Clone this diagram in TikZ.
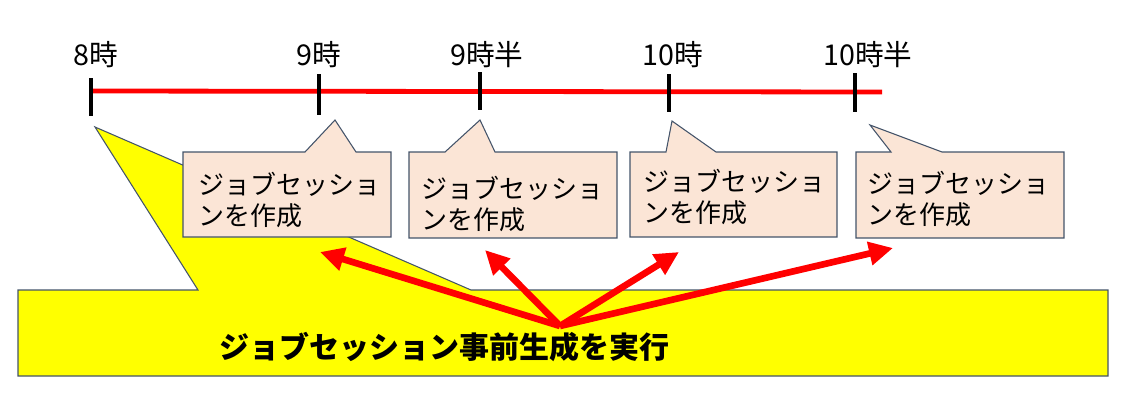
\documentclass[tikz,border=0pt]{standalone}
\usepackage{fontspec}
\newfontfamily\jp{Noto Sans CJK JP}
\usetikzlibrary{arrows.meta}
\definecolor{cpink}{RGB}{251,229,214}
\definecolor{cedge}{RGB}{68,84,106}
\definecolor{cyel}{RGB}{255,255,0}
\begin{document}
\begin{tikzpicture}[x=0.75pt,y=-0.75pt,
  callout/.style={fill=cpink,draw=cedge,line width=0.8pt},
  bigcallout/.style={fill=cyel,draw=cedge,line width=0.8pt},
  timeline/.style={red,line width=3.6pt},
  tick/.style={black,line width=3pt},
  timelabel/.style={inner sep=0pt,font=\jp\fontsize{21.5pt}{25pt}\selectfont},
  callouttext/.style={inner sep=0pt,anchor=north west,align=left,font=\jp\fontsize{19.5pt}{23.25pt}\selectfont},
  bigtext/.style={inner sep=0pt,font=\jp\bfseries\fontsize{22.5pt}{26pt}\selectfont},
  redarrow/.style={red,line width=5pt,-{Triangle[length=18pt,width=17pt]}}]
\useasboundingbox (0,0) rectangle (1123,400);

% yellow callout
\path[bigcallout] (18,290) -- (198,290) -- (95,127) -- (471,290) -- (1108,290) -- (1108,376) -- (18,376) -- cycle;

% pink callouts
\path[callout] (183,152) -- (305,152) -- (335,120) -- (356,152) -- (391,152) -- (391,237) -- (183,237) -- cycle;
\path[callout] (409,152) -- (445,152) -- (480,120) -- (495,152) -- (617,152) -- (617,238) -- (409,238) -- cycle;
\path[callout] (630,152) -- (666,152) -- (672,121) -- (716,152) -- (837,152) -- (837,237) -- (630,237) -- cycle;
\path[callout] (856,152) -- (891,152) -- (870,125) -- (942,152) -- (1064,152) -- (1064,238) -- (856,238) -- cycle;

\node[callouttext] (c1) at (198,172) {ジョブセッショ\\ンを作成};
\node[callouttext] (c2) at (421,176) {ジョブセッショ\\ンを作成};
\node[callouttext] (c3) at (643,169) {ジョブセッショ\\ンを作成};
\node[callouttext] (c4) at (867,171) {ジョブセッショ\\ンを作成};

% timeline
\coordinate (l0) at (92,91);
\coordinate (l1) at (882,92);
\draw[timeline] (l0) -- (l1);

\coordinate (t1a) at (91,78);  \coordinate (t1b) at (91,116);
\coordinate (t2a) at (319,74); \coordinate (t2b) at (319,115);
\coordinate (t3a) at (480,72); \coordinate (t3b) at (480,110);
\coordinate (t4a) at (669,74); \coordinate (t4b) at (669,112);
\coordinate (t5a) at (855,73); \coordinate (t5b) at (855,112);
\draw[tick] (t1a) -- (t1b);
\draw[tick] (t2a) -- (t2b);
\draw[tick] (t3a) -- (t3b);
\draw[tick] (t4a) -- (t4b);
\draw[tick] (t5a) -- (t5b);

\node[timelabel] (lab1) at (96,55) {8時};
\node[timelabel] (lab2) at (319,55) {9時};
\node[timelabel] (lab3) at (487,55) {9時半};
\node[timelabel] (lab4) at (673,55) {10時};
\node[timelabel] (lab5) at (868,55) {10時半};

% big text
\node[bigtext] (main) at (444,347) {ジョブセッション事前生成を実行};

% arrows
\coordinate (src) at (560,326);
\coordinate (a1) at (320,252);
\coordinate (a2) at (485,250);
\coordinate (a3) at (679,252);
\coordinate (a4) at (893,248);
\draw[redarrow] (src) -- (a1);
\draw[redarrow] (src) -- (a2);
\draw[redarrow] (src) -- (a3);
\draw[redarrow] (src) -- (a4);
\end{tikzpicture}
\end{document}
